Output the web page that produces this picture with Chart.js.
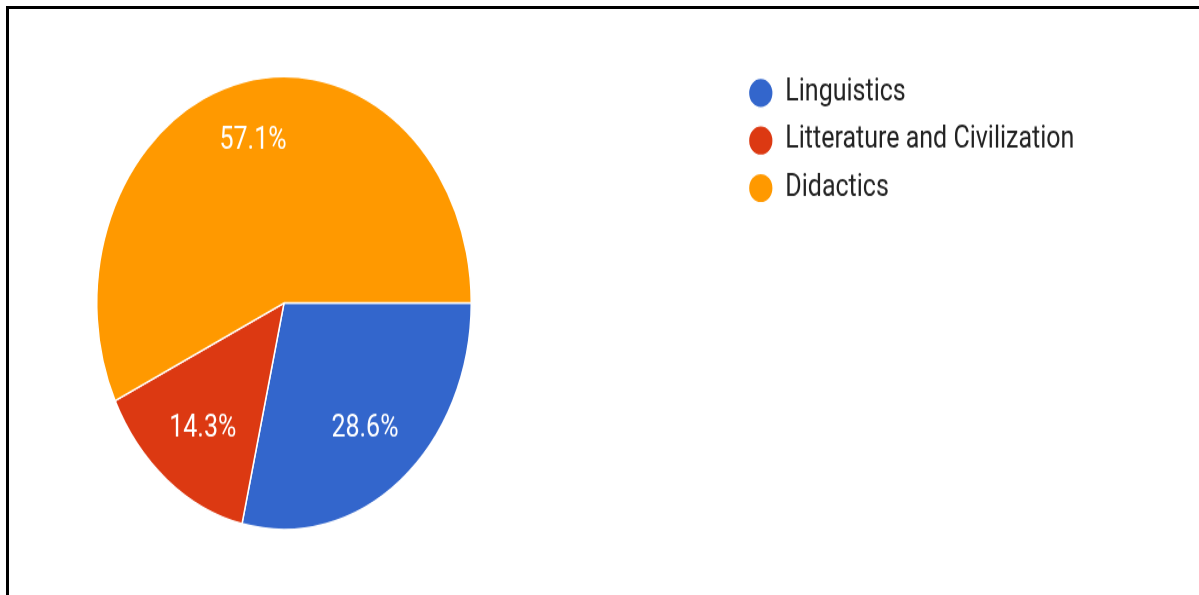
<!DOCTYPE html>
<html>
<head>
<meta charset="utf-8">
<title>Pie chart</title>
<script src="https://cdn.jsdelivr.net/npm/chart.js@4.4.1/dist/chart.umd.min.js"></script>
<style>
  html, body { margin: 0; padding: 0; background: #ffffff; overflow: hidden; }
  #pie { position: absolute; left: 0; top: 0; }
  #frame {
    position: absolute; left: 6px; top: 6px; width: 1400px; height: 800px;
    border-top: 3px solid #000; border-left: 3px solid #000;
    box-sizing: border-box; pointer-events: none;
  }
</style>
</head>
<body>
<!-- drawn at 1199x492 and shown taller, so the pie reads as an upright ellipse -->
<canvas id="pie" width="1199" height="492" style="width:1199px;height:595px"></canvas>
<div id="frame"></div>
<script>
// Data
const categories = ['Linguistics', 'Litterature and Civilization', 'Didactics'];
const shares = [28.6, 14.3, 57.1];           // percent of answers
const sliceColors = ['#3366CC', '#DC3912', '#FF9900'];

Chart.defaults.font.family = 'Roboto, "Liberation Sans", Arial, sans-serif';

// Writes each slice's percentage inside it; the text box is pushed outward
// until its far corner touches a fixed fraction of the radius.
const sliceValueLabels = {
  id: 'sliceValueLabels',
  afterDatasetsDraw(chart, args, opts) {
    const ctx = chart.ctx;
    const meta = chart.getDatasetMeta(0);
    const values = chart.data.datasets[0].data;
    const capHalf = opts.size * 0.355;
    ctx.save();
    ctx.font = `${opts.size}px ${Chart.defaults.font.family}`;
    ctx.fillStyle = opts.color;
    ctx.textAlign = 'center';
    ctx.textBaseline = 'alphabetic';
    meta.data.forEach((arc, i) => {
      const p = arc.getProps(['x', 'y', 'startAngle', 'endAngle', 'outerRadius'], true);
      const text = values[i].toFixed(1) + '%';
      const mid = (p.startAngle + p.endAngle) / 2;
      const c = Math.cos(mid), s = Math.sin(mid);
      const a = Math.sign(c) * ctx.measureText(text).width / 2;
      const b = Math.sign(s) * capHalf;
      const R = p.outerRadius * opts.reach;
      const k = c * a + s * b;
      const d = -k + Math.sqrt(k * k - (a * a + b * b - R * R));
      ctx.fillText(text, p.x + c * d, p.y + s * d + capHalf);
    });
    ctx.restore();
  }
};

// Places the legend box at a fixed spot to the right of the pie.
const legendSpot = {
  id: 'legendSpot',
  afterLayout(chart, args, opts) {
    const lg = chart.legend;
    if (!lg) return;
    const w = lg.width, h = lg.height;
    lg.left = opts.x; lg.top = opts.y;
    lg.right = opts.x + w; lg.bottom = opts.y + h;
  }
};

new Chart(document.getElementById('pie'), {
  type: 'pie',
  data: {
    labels: categories,
    datasets: [{
      data: shares,
      backgroundColor: sliceColors,
      borderColor: '#ffffff',
      borderWidth: 1.5,
      hoverOffset: 0
    }]
  },
  options: {
    responsive: false,
    animation: false,
    events: [],
    rotation: 90,
    layout: { padding: { left: 96, right: 727, top: 60.6, bottom: 51.4 } },
    plugins: {
      tooltip: { enabled: false },
      legend: {
        position: 'chartArea',
        fullSize: false,
        align: 'start',
        labels: {
          usePointStyle: true,
          pointStyle: 'circle',
          boxWidth: 24,
          boxHeight: 17.5,
          padding: 14.3,
          color: '#222222',
          font: { size: 25 }
        }
      },
      legendSpot: { x: 734.5, y: 50.1 },
      sliceValueLabels: { size: 25, color: '#ffffff', reach: 0.85 }
    }
  },
  plugins: [sliceValueLabels, legendSpot]
});
</script>
</body>
</html>
